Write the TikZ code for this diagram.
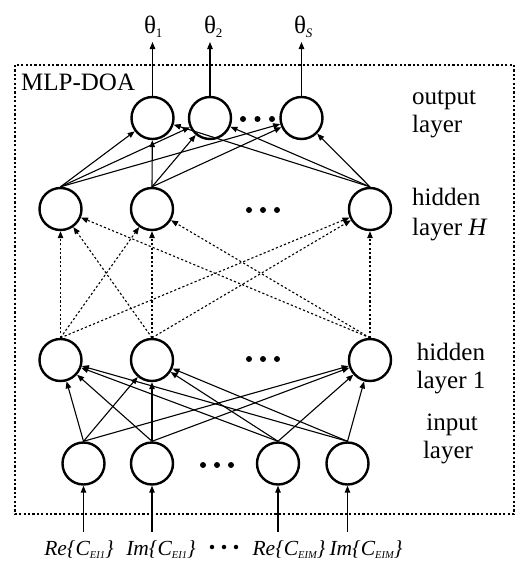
\documentclass[tikz,border=0pt]{standalone}
\usepackage{fontspec}
\setmainfont{Liberation Serif}
\usetikzlibrary{arrows.meta}
\newcommand{\lbl}{\fontsize{25}{28}\selectfont}
\newcommand{\sbs}[1]{\raisebox{-0.35ex}{\fontsize{13}{13}\selectfont #1}}
\newcommand{\isbs}[1]{\raisebox{-0.35ex}{\fontsize{10.5}{11}\selectfont #1}}
\newcommand{\insig}[2]{\fontsize{21.5}{24}\selectfont\textit{#1\{C\isbs{#2}\}}}
\begin{document}
\begin{tikzpicture}[x=1pt,y=-1pt,
  neuron/.style={circle,draw,line width=2.4pt,minimum size=42pt,inner sep=0pt},
  conn/.style={line width=1.1pt,-{Triangle[length=7pt,width=5.5pt]}},
  dconn/.style={conn,dash pattern=on 2.2pt off 2.2pt},
  frame/.style={line width=1.2pt,dash pattern=on 2.2pt off 2.2pt},
  dot/.style={circle,fill,inner sep=0pt,minimum size=6pt},
  sdot/.style={circle,fill,inner sep=0pt,minimum size=4.5pt},
  txt/.style={font=\lbl,inner sep=0pt}]
\useasboundingbox (0,0) rectangle (516,568);

% network frame
\draw[frame] (15,65) rectangle (514,514);
\node[txt,anchor=base west] (title) at (21,90) {MLP-DOA};

% neurons
\node[neuron] (o1) at (152.5,118) {};
\node[neuron] (o2) at (210,118) {};
\node[neuron] (o3) at (301.5,118) {};
\node[neuron] (hH1) at (60.5,209) {};
\node[neuron] (hH2) at (152,209) {};
\node[neuron] (hH3) at (370,209) {};
\node[neuron] (hA1) at (60.5,360) {};
\node[neuron] (hA2) at (152,360) {};
\node[neuron] (hA3) at (370,360) {};
\node[neuron] (i1) at (83.5,463.5) {};
\node[neuron] (i2) at (152,463.5) {};
\node[neuron] (i3) at (278,463.5) {};
\node[neuron] (i4) at (347.5,463.5) {};

% ellipsis dots
\foreach \x [count=\k] in {243,257.5,272} \node[dot] (od\k) at (\x,119) {};
\foreach \x [count=\k] in {249,263,277} \node[dot] (hHd\k) at (\x,210) {};
\foreach \x [count=\k] in {249,263,277} \node[dot] (hAd\k) at (\x,359) {};
\foreach \x [count=\k] in {203,217,231} \node[dot] (id\k) at (\x,465) {};

% input -> hidden layer 1
\foreach \s in {i1,i2,i3,i4}
  \foreach \t in {hA1,hA2,hA3}
    \draw[conn] (\s.north) -- (\t);

% hidden layer 1 -> hidden layer H
\foreach \s in {hA1,hA2,hA3}
  \foreach \t in {hH1,hH2,hH3}
    \draw[dconn] (\s.north) -- (\t);

% hidden layer H -> output
\foreach \s in {hH1,hH2,hH3}
  \foreach \t in {o1,o2,o3}
    \draw[conn] (\s.north) -- (\t);

% outputs
\coordinate (t1) at (152.5,42);
\coordinate (t2) at (210,42);
\coordinate (t3) at (301.5,42);
\draw[conn] (o1) -- (t1);
\draw[conn] (o2) -- (t2);
\draw[conn] (o3) -- (t3);
\node[txt,anchor=base] (th1) at (150,33) {θ\rlap{\sbs{1}}};
\node[txt,anchor=base] (th2) at (210,33) {θ\rlap{\sbs{2}}};
\node[txt,anchor=base] (th3) at (300,33) {θ\rlap{\sbs{\textit{S}}}};

% inputs
\coordinate (b1) at (83.5,532);
\coordinate (b2) at (152,532);
\coordinate (b3) at (278,532);
\coordinate (b4) at (347.5,532);
\draw[conn] (b1) -- (i1);
\draw[conn] (b2) -- (i2);
\draw[conn] (b3) -- (i3);
\draw[conn] (b4) -- (i4);
\node[txt,anchor=base] (x1) at (79,555) {\insig{Re}{EI1}};
\node[txt,anchor=base] (x2) at (161,555) {\insig{Im}{EI1}};
\foreach \x [count=\k] in {212,224,236} \node[sdot] (xd\k) at (\x,547) {};
\node[txt,anchor=base] (x3) at (289,555) {\insig{Re}{EIM}};
\node[txt,anchor=base] (x4) at (366,555) {\insig{Im}{EIM}};

% layer names
\node[txt,anchor=base west] (lo1) at (412,104) {output};
\node[txt,anchor=base west] (lo2) at (412,132) {layer};
\node[txt,anchor=base west] (lh1) at (412,205) {hidden};
\node[txt,anchor=base west] (lh2) at (412,235) {layer \textit{H}};
\node[txt,anchor=base] (la1) at (451,360) {hidden};
\node[txt,anchor=base] (la2) at (451,388) {layer 1};
\node[txt,anchor=base] (li1) at (452,430) {input};
\node[txt,anchor=base] (li2) at (448,458) {layer};
\end{tikzpicture}
\end{document}
